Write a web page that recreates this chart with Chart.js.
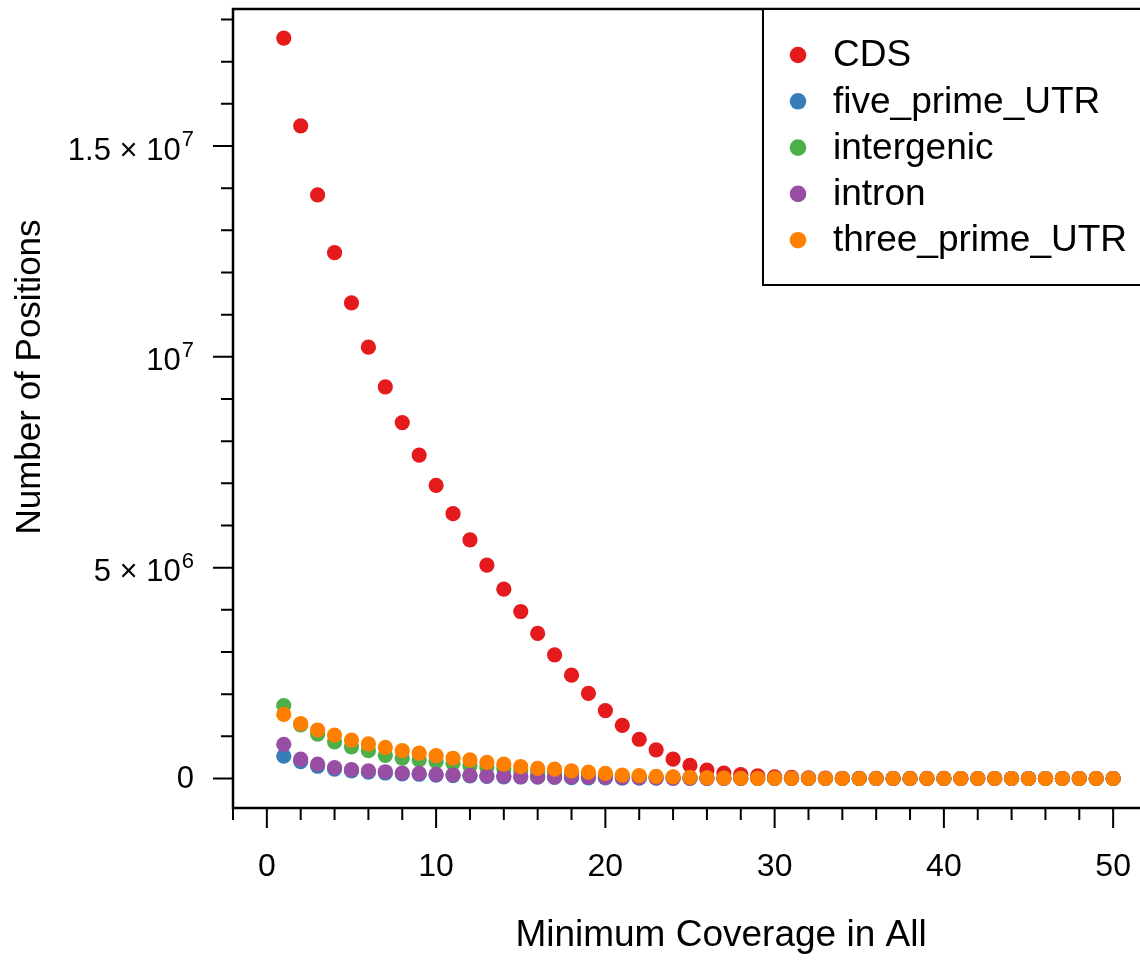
<!DOCTYPE html>
<html>
<head>
<meta charset="utf-8">
<script src="https://cdn.jsdelivr.net/npm/chart.js@4.4.0/dist/chart.umd.min.js"></script>
<style>
  html, body { margin: 0; padding: 0; background: #fff; overflow: hidden; }
  #wrap { position: absolute; left: 0; top: 0; }
</style>
</head>
<body>
<div id="wrap"><canvas id="coverageChart" width="1160" height="963"></canvas></div>
<script>

const coverage = [1, 2, 3, 4, 5, 6, 7, 8, 9, 10, 11, 12, 13, 14, 15, 16, 17, 18, 19, 20,
    21, 22, 23, 24, 25, 26, 27, 28, 29, 30, 31, 32, 33, 34, 35, 36, 37, 38, 39, 40,
    41, 42, 43, 44, 45, 46, 47, 48, 49, 50];

const cdsCounts = [17.56e6, 15.48e6, 13.84e6, 12.47e6, 11.28e6, 10.23e6, 9.29e6, 8.44e6, 7.67e6, 6.95e6,
    6.28e6, 5.66e6, 5.06e6, 4.49e6, 3.96e6, 3.44e6, 2.93e6, 2.45e6, 2.02e6, 1.61e6,
    1.26e6, 0.93e6, 0.68e6, 0.46e6, 0.31e6, 0.20e6, 0.13e6, 0.09e6, 0.06e6, 0.04e6,
    0.025e6, 0.015e6, 0.01e6, 0.006e6, 0.004e6, 0.003e6, 0.002e6, 0.001e6, 0.001e6, 0.001e6,
    0, 0, 0, 0, 0, 0, 0, 0, 0, 0];

const fivePrimeCounts = [0.53e6, 0.40e6, 0.29e6, 0.22e6, 0.18e6, 0.15e6, 0.13e6, 0.11e6, 0.10e6, 0.08e6,
    0.07e6, 0.06e6, 0.05e6, 0.04e6, 0.035e6, 0.03e6, 0.025e6, 0.02e6, 0.016e6, 0.013e6,
    0.01e6, 0.008e6, 0.006e6, 0.005e6, 0.004e6, 0.003e6, 0.002e6, 0.002e6, 0.001e6, 0.001e6,
    0, 0, 0, 0, 0, 0, 0, 0, 0, 0,
    0, 0, 0, 0, 0, 0, 0, 0, 0, 0];

const intergenicCounts = [1.73e6, 1.27e6, 1.05e6, 0.87e6, 0.75e6, 0.66e6, 0.55e6, 0.48e6, 0.44e6, 0.40e6,
    0.36e6, 0.30e6, 0.26e6, 0.23e6, 0.20e6, 0.17e6, 0.15e6, 0.12e6, 0.10e6, 0.08e6,
    0.06e6, 0.05e6, 0.04e6, 0.03e6, 0.02e6, 0.015e6, 0.01e6, 0.006e6, 0.004e6, 0.003e6,
    0.002e6, 0.001e6, 0, 0, 0, 0, 0, 0, 0, 0,
    0, 0, 0, 0, 0, 0, 0, 0, 0, 0];

const intronCounts = [0.81e6, 0.46e6, 0.34e6, 0.26e6, 0.21e6, 0.18e6, 0.16e6, 0.13e6, 0.12e6, 0.10e6,
    0.083e6, 0.075e6, 0.06e6, 0.055e6, 0.045e6, 0.043e6, 0.04e6, 0.038e6, 0.035e6, 0.03e6,
    0.025e6, 0.02e6, 0.015e6, 0.01e6, 0.008e6, 0.005e6, 0.003e6, 0.002e6, 0.001e6, 0.001e6,
    0, 0, 0, 0, 0, 0, 0, 0, 0, 0,
    0, 0, 0, 0, 0, 0, 0, 0, 0, 0];

const threePrimeCounts = [1.52e6, 1.30e6, 1.15e6, 1.03e6, 0.91e6, 0.82e6, 0.74e6, 0.66e6, 0.60e6, 0.54e6,
    0.48e6, 0.44e6, 0.38e6, 0.34e6, 0.28e6, 0.24e6, 0.22e6, 0.18e6, 0.15e6, 0.12e6,
    0.08e6, 0.07e6, 0.05e6, 0.04e6, 0.025e6, 0.016e6, 0.01e6, 0.005e6, 0.003e6, 0.002e6,
    0.001e6, 0, 0, 0, 0, 0, 0, 0, 0, 0,
    0, 0, 0, 0, 0, 0, 0, 0, 0, 0];

const seriesNames = ['CDS', 'five_prime_UTR', 'intergenic', 'intron', 'three_prime_UTR'];
const seriesColors = ['#E41A1C', '#377EB8', '#4DAF4A', '#984EA3', '#FF7F00'];

// axis labels (R style: long ticks at labelled values, short ones between)
const xTickValues = [0, 10, 20, 30, 40, 50];
const xTickLabels = ['0', '10', '20', '30', '40', '50'];
const yTickValues = [0, 5e6, 1e7, 1.5e7];
const yTickLabels = [['0', ''], ['5 \u00d7 10', '6'], ['10', '7'], ['1.5 \u00d7 10', '7']];
const xMinorStep = 2;
const yMinorStep = 1e6;

const FONT = "'Liberation Sans', Arial, Helvetica, sans-serif";

const allCounts = [cdsCounts, fivePrimeCounts, intergenicCounts, intronCounts, threePrimeCounts];

const datasets = seriesNames.map((name, i) => ({
    label: name,
    data: coverage.map((c, j) => ({ x: c, y: allCounts[i][j] })),
    backgroundColor: seriesColors[i],
    borderColor: seriesColors[i],
    pointRadius: 7.6,
    pointHoverRadius: 7.6,
    pointBorderWidth: 0,
    showLine: false,
    order: seriesNames.length - i   // later series on top, like base R points()
}));

// ticks every `step` inside the scale range (chart.js fudges min/max alignment otherwise)
function stepTicks(scale, step) {
    const ticks = [];
    for (let k = Math.ceil(scale.min / step); k * step <= scale.max; k++) {
        ticks.push({ value: k * step });
    }
    scale.ticks = ticks;
}

const rAxes = {
    id: 'rAxes',
    afterDraw(chart) {
        const { ctx, chartArea: a, scales: { x, y } } = chart;
        ctx.save();
        ctx.strokeStyle = '#000';
        ctx.fillStyle = '#000';

        // plot box
        ctx.lineWidth = 2.5;
        ctx.strokeRect(a.left, a.top, a.right - a.left, a.bottom - a.top);

        // tick marks
        ctx.lineWidth = 2;
        ctx.beginPath();
        x.ticks.forEach(t => {
            const px = x.getPixelForValue(t.value);
            const len = xTickValues.includes(t.value) ? 20 : 12;
            ctx.moveTo(px, a.bottom);
            ctx.lineTo(px, a.bottom + len);
        });
        y.ticks.forEach(t => {
            const py = y.getPixelForValue(t.value);
            const len = yTickValues.includes(t.value) ? 20 : 12;
            ctx.moveTo(a.left, py);
            ctx.lineTo(a.left - len, py);
        });
        ctx.stroke();

        // x tick labels
        ctx.font = '32px ' + FONT;
        ctx.textAlign = 'center';
        ctx.textBaseline = 'middle';
        xTickValues.forEach((v, i) => {
            ctx.fillText(xTickLabels[i], x.getPixelForValue(v), 867);
        });

        // y tick labels with superscript exponent
        const right = 194;
        yTickValues.forEach((v, i) => {
            const py = y.getPixelForValue(v);
            const [base, exp] = yTickLabels[i];
            let ew = 0;
            if (exp) {
                ctx.font = '22px ' + FONT;
                ew = ctx.measureText(exp).width;
                ctx.textAlign = 'left';
                ctx.textBaseline = 'alphabetic';
                ctx.fillText(exp, right - ew, py);
                ctx.font = '31px ' + FONT;
                ctx.textAlign = 'right';
                ctx.textBaseline = 'middle';
                ctx.fillText(base, right - ew - 1, py + 5);
            } else {
                ctx.font = '31px ' + FONT;
                ctx.textAlign = 'right';
                ctx.textBaseline = 'middle';
                ctx.fillText(base, right, py + 1);
            }
        });

        // axis titles
        ctx.textAlign = 'center';
        ctx.textBaseline = 'middle';
        ctx.font = '37px ' + FONT;
        ctx.fillText('Minimum Coverage in All', 721, 936);
        ctx.save();
        ctx.translate(30, 377);
        ctx.rotate(-Math.PI / 2);
        ctx.font = '35px ' + FONT;
        ctx.fillText('Number of Positions', 0, 0);
        ctx.restore();

        // legend box, top right
        ctx.lineWidth = 2;
        ctx.fillStyle = '#fff';
        ctx.fillRect(763, a.top, a.right - 763, 276);
        ctx.strokeRect(763, a.top, a.right - 763, 276);
        ctx.font = '37px ' + FONT;
        ctx.textAlign = 'left';
        ctx.textBaseline = 'middle';
        chart.data.datasets.forEach((ds, i) => {
            const rowY = 55 + i * 46.3;
            ctx.fillStyle = ds.backgroundColor;
            ctx.beginPath();
            ctx.arc(798, rowY, 8.3, 0, Math.PI * 2);
            ctx.fill();
            ctx.fillStyle = '#000';
            ctx.fillText(ds.label, 833, rowY + 1);
        });
        ctx.restore();
    }
};

const ctx = document.getElementById('coverageChart').getContext('2d');
const coverageChart = new Chart(ctx, {
    type: 'scatter',
    data: { datasets: datasets },
    options: {
        responsive: false,
        animation: false,
        layout: { padding: { left: 0, top: 9, right: 13, bottom: 0 } },
        plugins: {
            legend: { display: false },
            tooltip: { enabled: false }
        },
        scales: {
            x: {
                type: 'linear',
                min: -2,
                max: 52,
                grid: { display: false },
                border: { display: false },
                ticks: { display: false },
                afterBuildTicks: (scale) => stepTicks(scale, xMinorStep),
                afterFit: (scale) => { scale.height = 155; }
            },
            y: {
                type: 'linear',
                min: -0.70e6,
                max: 18.25e6,
                grid: { display: false },
                border: { display: false },
                ticks: { display: false },
                afterBuildTicks: (scale) => stepTicks(scale, yMinorStep),
                afterFit: (scale) => { scale.width = 233; }
            }
        }
    },
    plugins: [rAxes]
});
</script>
</body>
</html>
